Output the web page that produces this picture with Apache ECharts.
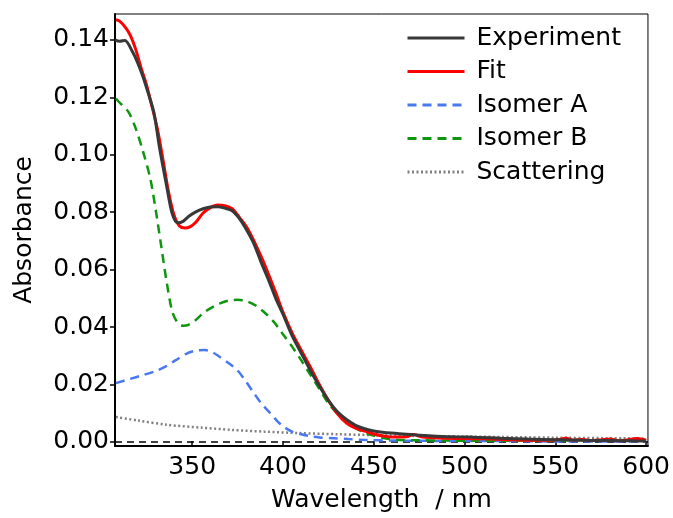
<!DOCTYPE html>
<html>
<head>
<meta charset="utf-8">
<script src="https://cdn.jsdelivr.net/npm/echarts@6/dist/echarts.min.js"></script>
<style>
  html, body { margin: 0; padding: 0; background: #fff; }
  #main { width: 673px; height: 518px; }
</style>
</head>
<body>
<div id="main"></div>
<script>
// tick labels
const xTicks = [350, 400, 450, 500, 550, 600];
const yTicks = [0, 0.02, 0.04, 0.06, 0.08, 0.10, 0.12, 0.14];

// Experiment
const expNm = [307.5, 310, 313, 317, 320, 323, 326, 329, 332, 336, 339, 342, 345, 348, 352, 356, 360, 364, 368, 372, 376, 380, 384, 388, 392, 396, 400, 405, 410, 415, 420, 425, 430, 435, 440, 445, 450, 456, 464, 472, 482, 495, 508, 520, 535, 550, 565, 580, 592, 600];
const expVal = [0.140, 0.1395, 0.1398, 0.136, 0.132, 0.127, 0.121, 0.1145, 0.1025, 0.0889, 0.0795, 0.0763, 0.0768, 0.0785, 0.0801, 0.0812, 0.0818, 0.0819, 0.0814, 0.0805, 0.0778, 0.0738, 0.0690, 0.0625, 0.0565, 0.0500, 0.0445, 0.0370, 0.0310, 0.0250, 0.0195, 0.0145, 0.0105, 0.0078, 0.0058, 0.0046, 0.0038, 0.0033, 0.0029, 0.0025, 0.0021, 0.0018, 0.0016, 0.0013, 0.0010, 0.0008, 0.0006, 0.0005, 0.0004, 0.0003];

// Fit
const fitNm = [308, 310, 313, 316, 319, 322, 325, 328, 331, 334, 337, 340, 343, 346, 349, 352, 356, 360, 364, 368, 372, 376, 380, 384, 388, 392, 396, 400, 405, 410, 415, 420, 425, 430, 435, 440, 445, 450, 456, 462, 468, 472, 476, 482, 490, 500, 510, 520, 530, 540, 550, 556, 560, 565, 570, 575, 580, 585, 590, 595, 600];
const fitVal = [0.1470, 0.1465, 0.1445, 0.1415, 0.1365, 0.1300, 0.1240, 0.1165, 0.1085, 0.0980, 0.0870, 0.0790, 0.0752, 0.0745, 0.0750, 0.0765, 0.0797, 0.0816, 0.0825, 0.0823, 0.0812, 0.0782, 0.0748, 0.0700, 0.0645, 0.0585, 0.0520, 0.0452, 0.0380, 0.0320, 0.0262, 0.0200, 0.0145, 0.0098, 0.0066, 0.0048, 0.0038, 0.0028, 0.0020, 0.0017, 0.0018, 0.0026, 0.0018, 0.0015, 0.0013, 0.0012, 0.0011, 0.0009, 0.0007, 0.0006, 0.0007, 0.0013, 0.0006, 0.0009, 0.0005, 0.0007, 0.0010, 0.0004, 0.0008, 0.0012, 0.0006];

// Isomer A
const isoANm = [308, 315, 323, 330, 336, 341, 347, 352, 357, 361, 365, 370, 375, 380, 384, 388, 393, 397, 400, 405, 410, 415, 420, 428, 436, 446, 460, 480, 500, 525, 550, 575, 600];
const isoAVal = [0.0205, 0.0218, 0.0233, 0.0247, 0.0265, 0.0285, 0.0308, 0.0318, 0.0320, 0.0313, 0.0297, 0.0275, 0.0249, 0.0207, 0.0170, 0.0135, 0.0100, 0.0072, 0.0055, 0.0036, 0.0027, 0.0020, 0.0016, 0.0013, 0.0010, 0.0007, 0.0005, 0.0004, 0.0003, 0.0003, 0.0002, 0.0002, 0.0002];

// Isomer B
const isoBNm = [308, 311, 315, 319, 323, 327, 330, 333, 336, 339, 342, 345, 348, 352, 356, 360, 365, 370, 375, 380, 385, 390, 395, 400, 405, 410, 415, 420, 425, 430, 435, 440, 445, 450, 456, 464, 475, 490, 505, 520, 535, 550, 560, 570, 580, 590, 600];
const isoBVal = [0.1195, 0.1175, 0.1148, 0.1090, 0.1010, 0.0915, 0.0805, 0.0680, 0.0555, 0.0455, 0.0415, 0.0405, 0.0408, 0.0425, 0.0448, 0.0465, 0.0482, 0.0492, 0.0495, 0.0490, 0.0475, 0.0450, 0.0418, 0.0375, 0.0332, 0.0285, 0.0235, 0.0185, 0.0135, 0.0098, 0.0070, 0.0048, 0.0032, 0.0022, 0.0013, 0.0007, 0.0006, 0.0005, 0.0004, 0.0004, 0.0005, 0.0004, 0.0007, 0.0005, 0.0009, 0.0006, 0.0008];

// Scattering
const scatNm = [308, 320, 336, 355, 372, 390, 409, 430, 464, 500, 550, 600];
const scatVal = [0.0087, 0.0075, 0.0060, 0.0050, 0.0042, 0.0036, 0.0031, 0.0027, 0.0022, 0.0019, 0.0015, 0.0012];

// zero baseline
const zeroNm = [307.5, 601];
const zeroVal = [0, 0];

const pairs = (xs, ys) => xs.map((x, i) => [x, ys[i]]);
const FONT = "DejaVu Sans";

const chart = echarts.init(document.getElementById('main'));
chart.setOption({
  animation: false,
  backgroundColor: '#fff',
  grid: {
    left: 115, right: 25, top: 14, bottom: 72,
    show: true, borderColor: '#000', borderWidth: 1
  },
  legend: {
    data: ['Experiment', 'Fit', 'Isomer A', 'Isomer B', 'Scattering'],
    orient: 'vertical',
    left: 401,
    top: 18,
    itemWidth: 57,
    itemHeight: 14,
    itemGap: 3.5,
    itemStyle: { opacity: 0 },
    lineStyle: { width: 3 },
    textStyle: { fontFamily: FONT, fontSize: 25, color: '#000', lineHeight: 30, padding: [0, 0, 0, 7] }
  },
  xAxis: {
    type: 'value',
    min: 307.5,
    max: 601,
    name: 'Wavelength  / nm',
    nameLocation: 'middle',
    nameGap: 42,
    nameTextStyle: { fontFamily: FONT, fontSize: 25, color: '#000' },
    axisLine: { show: true, onZero: false, lineStyle: { color: '#000', width: 2 } },
    axisTick: { show: true, inside: true, length: 5, customValues: xTicks, lineStyle: { color: '#000', width: 1.5 } },
    axisLabel: { customValues: xTicks, margin: 9, fontFamily: FONT, fontSize: 25, color: '#000' },
    splitLine: { show: false }
  },
  yAxis: {
    type: 'value',
    min: -0.0014,
    max: 0.149,
    name: 'Absorbance',
    nameLocation: 'middle',
    nameGap: 78,
    nameTextStyle: { fontFamily: FONT, fontSize: 25, color: '#000' },
    axisLine: { show: true, onZero: false, lineStyle: { color: '#000', width: 2 } },
    axisTick: { show: true, inside: false, length: 5, customValues: yTicks, lineStyle: { color: '#000', width: 1.5 } },
    axisLabel: { customValues: yTicks, margin: 6, fontFamily: FONT, fontSize: 25, color: '#000',
      formatter: v => v.toFixed(2) },
    splitLine: { show: false }
  },
  series: [
    { name: 'zero', type: 'line', data: pairs(zeroNm, zeroVal), symbol: 'none', silent: true,
      lineStyle: { color: '#000', width: 1.5, type: [7, 5] } },
    { name: 'Scattering', type: 'line', data: pairs(scatNm, scatVal), symbol: 'none', smooth: 0.3,
      itemStyle: { color: '#808080' },
      lineStyle: { color: '#808080', width: 2.5, type: [2, 2.5] } },
    { name: 'Isomer A', type: 'line', data: pairs(isoANm, isoAVal), symbol: 'none', smooth: 0.3,
      itemStyle: { color: '#4a78f0' },
      lineStyle: { color: '#4a78f0', width: 2.5, type: [9, 6] } },
    { name: 'Isomer B', type: 'line', data: pairs(isoBNm, isoBVal), symbol: 'none', smooth: 0.3,
      itemStyle: { color: '#0e960e' },
      lineStyle: { color: '#0e960e', width: 2.5, type: [9, 6] } },
    { name: 'Fit', type: 'line', data: pairs(fitNm, fitVal), symbol: 'none', smooth: 0.3,
      itemStyle: { color: '#ff0000' },
      lineStyle: { color: '#ff0000', width: 3 } },
    { name: 'Experiment', type: 'line', data: pairs(expNm, expVal), symbol: 'none', smooth: 0.3,
      itemStyle: { color: '#383838' },
      lineStyle: { color: '#383838', width: 3 } }
  ]
});
</script>
</body>
</html>
